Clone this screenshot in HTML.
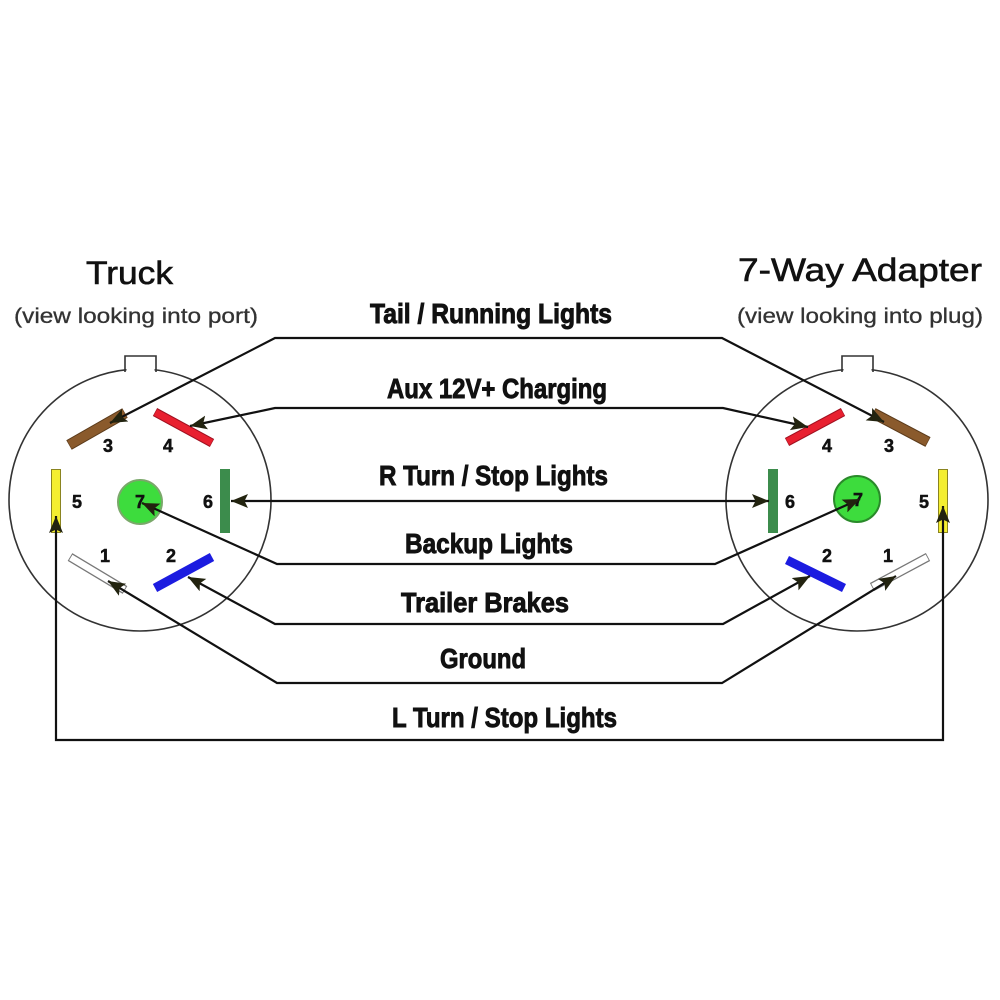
<!DOCTYPE html>
<html><head><meta charset="utf-8"><style>
html,body{margin:0;padding:0;background:#fff;}
svg{display:block;}
</style></head><body>
<svg width="1000" height="1000" viewBox="0 0 1000 1000" xmlns="http://www.w3.org/2000/svg">
<defs>
<marker id="ah" markerUnits="userSpaceOnUse" markerWidth="20" markerHeight="16" refX="17" refY="7" orient="auto-start-reverse">
<path d="M0,0 L17,7 L0,14 L3.5,7 Z" fill="#22230f"/>
</marker>
</defs>
<rect width="1000" height="1000" fill="#fff"/>

<!-- Titles -->
<g font-family="Liberation Sans, sans-serif" fill="#111" stroke="#111">
<text x="86" y="284" font-size="32" stroke-width="0.6" textLength="87" lengthAdjust="spacingAndGlyphs">Truck</text>
<text x="738" y="281" font-size="32" stroke-width="0.6" textLength="244" lengthAdjust="spacingAndGlyphs">7-Way Adapter</text>
<text x="14" y="323" font-size="21" fill="#333" stroke="#333" stroke-width="0.3" textLength="244" lengthAdjust="spacingAndGlyphs">(view looking into port)</text>
<text x="737" y="323" font-size="21" fill="#333" stroke="#333" stroke-width="0.3" textLength="246" lengthAdjust="spacingAndGlyphs">(view looking into plug)</text>
</g>

<!-- Connector circles -->
<g fill="none" stroke="#333" stroke-width="1.6">
<circle cx="140" cy="500" r="131"/>
<circle cx="857" cy="500" r="131"/>
</g>
<rect x="126.5" y="364" width="28" height="10" fill="#fff"/>
<rect x="843.5" y="364" width="28" height="10" fill="#fff"/>
<g fill="none" stroke="#333" stroke-width="1.6">
<path d="M125,372 L125,356 L156,356 L156,372"/>
<path d="M842,372 L842,356 L873,356 L873,372"/>
</g>

<!-- Left pins -->
<g stroke-linecap="butt">
<line x1="69" y1="445" x2="125" y2="413" stroke="#5a3a1a" stroke-width="11"/>
<line x1="69.5" y1="444.7" x2="124.5" y2="413.3" stroke="#8a5a2c" stroke-width="9"/>
<line x1="155" y1="412" x2="212" y2="443" stroke="#a01020" stroke-width="9"/>
<line x1="155.5" y1="412.3" x2="211.5" y2="442.7" stroke="#e82030" stroke-width="7"/>
<line x1="56" y1="469" x2="56" y2="533" stroke="#8a8420" stroke-width="10"/>
<line x1="56" y1="470" x2="56" y2="532" stroke="#f4ee30" stroke-width="8"/>
<line x1="225" y1="469" x2="225" y2="533" stroke="#3c8c4c" stroke-width="10"/>
<circle cx="140" cy="502" r="22" fill="#3ddc3d" stroke="#7aa86a" stroke-width="2"/>
<line x1="70" y1="557" x2="125" y2="590" stroke="#777" stroke-width="9"/>
<line x1="70.8" y1="557.5" x2="124.2" y2="589.5" stroke="#fff" stroke-width="6.5"/>
<line x1="155" y1="588" x2="212" y2="557" stroke="#1c1ce0" stroke-width="9"/>
</g>

<!-- Right pins -->
<g stroke-linecap="butt">
<line x1="787" y1="442" x2="843" y2="412" stroke="#a01020" stroke-width="9"/>
<line x1="787.5" y1="441.7" x2="842.5" y2="412.3" stroke="#e82030" stroke-width="7"/>
<line x1="873" y1="413" x2="928" y2="442" stroke="#5a3a1a" stroke-width="11"/>
<line x1="873.5" y1="413.3" x2="927.5" y2="441.7" stroke="#8a5a2c" stroke-width="9"/>
<line x1="773" y1="469" x2="773" y2="533" stroke="#3c8c4c" stroke-width="10"/>
<circle cx="857" cy="499" r="23" fill="#3ddc3d" stroke="#2a8a2a" stroke-width="2"/>
<line x1="943" y1="469" x2="943" y2="533" stroke="#8a8420" stroke-width="10"/>
<line x1="943" y1="470" x2="943" y2="532" stroke="#f4ee30" stroke-width="8"/>
<line x1="787" y1="560" x2="844" y2="588" stroke="#1c1ce0" stroke-width="9"/>
<line x1="872" y1="587" x2="928" y2="557" stroke="#777" stroke-width="9"/>
<line x1="872.8" y1="586.6" x2="927.2" y2="557.4" stroke="#fff" stroke-width="6.5"/>
</g>

<!-- Pin numbers -->
<g font-family="Liberation Sans, sans-serif" font-weight="bold" font-size="18" fill="#111" stroke="#111" stroke-width="0.5" text-anchor="middle">
<text x="108" y="452">3</text>
<text x="168" y="452">4</text>
<text x="77" y="508">5</text>
<text x="208" y="508">6</text>
<text x="140" y="508">7</text>
<text x="105" y="562">1</text>
<text x="171" y="562">2</text>
<text x="827" y="452">4</text>
<text x="889" y="452">3</text>
<text x="790" y="508">6</text>
<text x="858" y="506">7</text>
<text x="924" y="508">5</text>
<text x="827" y="562">2</text>
<text x="888" y="562">1</text>
</g>

<!-- Wires -->
<g fill="none" stroke="#111" stroke-width="2.2" stroke-linejoin="miter">
<path d="M110,423 L275,338 L722,338 L884,422" marker-start="url(#ah)" marker-end="url(#ah)"/>
<path d="M190,426 L275,408 L723,408 L808,427" marker-start="url(#ah)" marker-end="url(#ah)"/>
<path d="M231,501 L769,501" marker-start="url(#ah)" marker-end="url(#ah)"/>
<path d="M142,503 L277,564 L715,564 L860,499" marker-start="url(#ah)" marker-end="url(#ah)"/>
<path d="M188,577 L275,624 L723,624 L810,576" marker-start="url(#ah)" marker-end="url(#ah)"/>
<path d="M108,581 L277,683 L722,683 L896,576" marker-start="url(#ah)" marker-end="url(#ah)"/>
<path d="M56,516 L56,740 L943,740 L943,506" marker-start="url(#ah)" marker-end="url(#ah)"/>
</g>

<!-- Wire labels -->
<g font-family="Liberation Sans, sans-serif" font-weight="bold" font-size="28" fill="#111" stroke="#111" stroke-width="0.9">
<text x="370" y="323" textLength="242" lengthAdjust="spacingAndGlyphs">Tail / Running Lights</text>
<text x="387" y="398" textLength="220" lengthAdjust="spacingAndGlyphs">Aux 12V+ Charging</text>
<text x="379" y="485" textLength="229" lengthAdjust="spacingAndGlyphs">R Turn / Stop Lights</text>
<text x="405" y="553" textLength="168" lengthAdjust="spacingAndGlyphs">Backup Lights</text>
<text x="401" y="612" textLength="168" lengthAdjust="spacingAndGlyphs">Trailer Brakes</text>
<text x="440" y="668" textLength="86" lengthAdjust="spacingAndGlyphs">Ground</text>
<text x="392" y="727" textLength="225" lengthAdjust="spacingAndGlyphs">L Turn / Stop Lights</text>
</g>
</svg>
</body></html>
